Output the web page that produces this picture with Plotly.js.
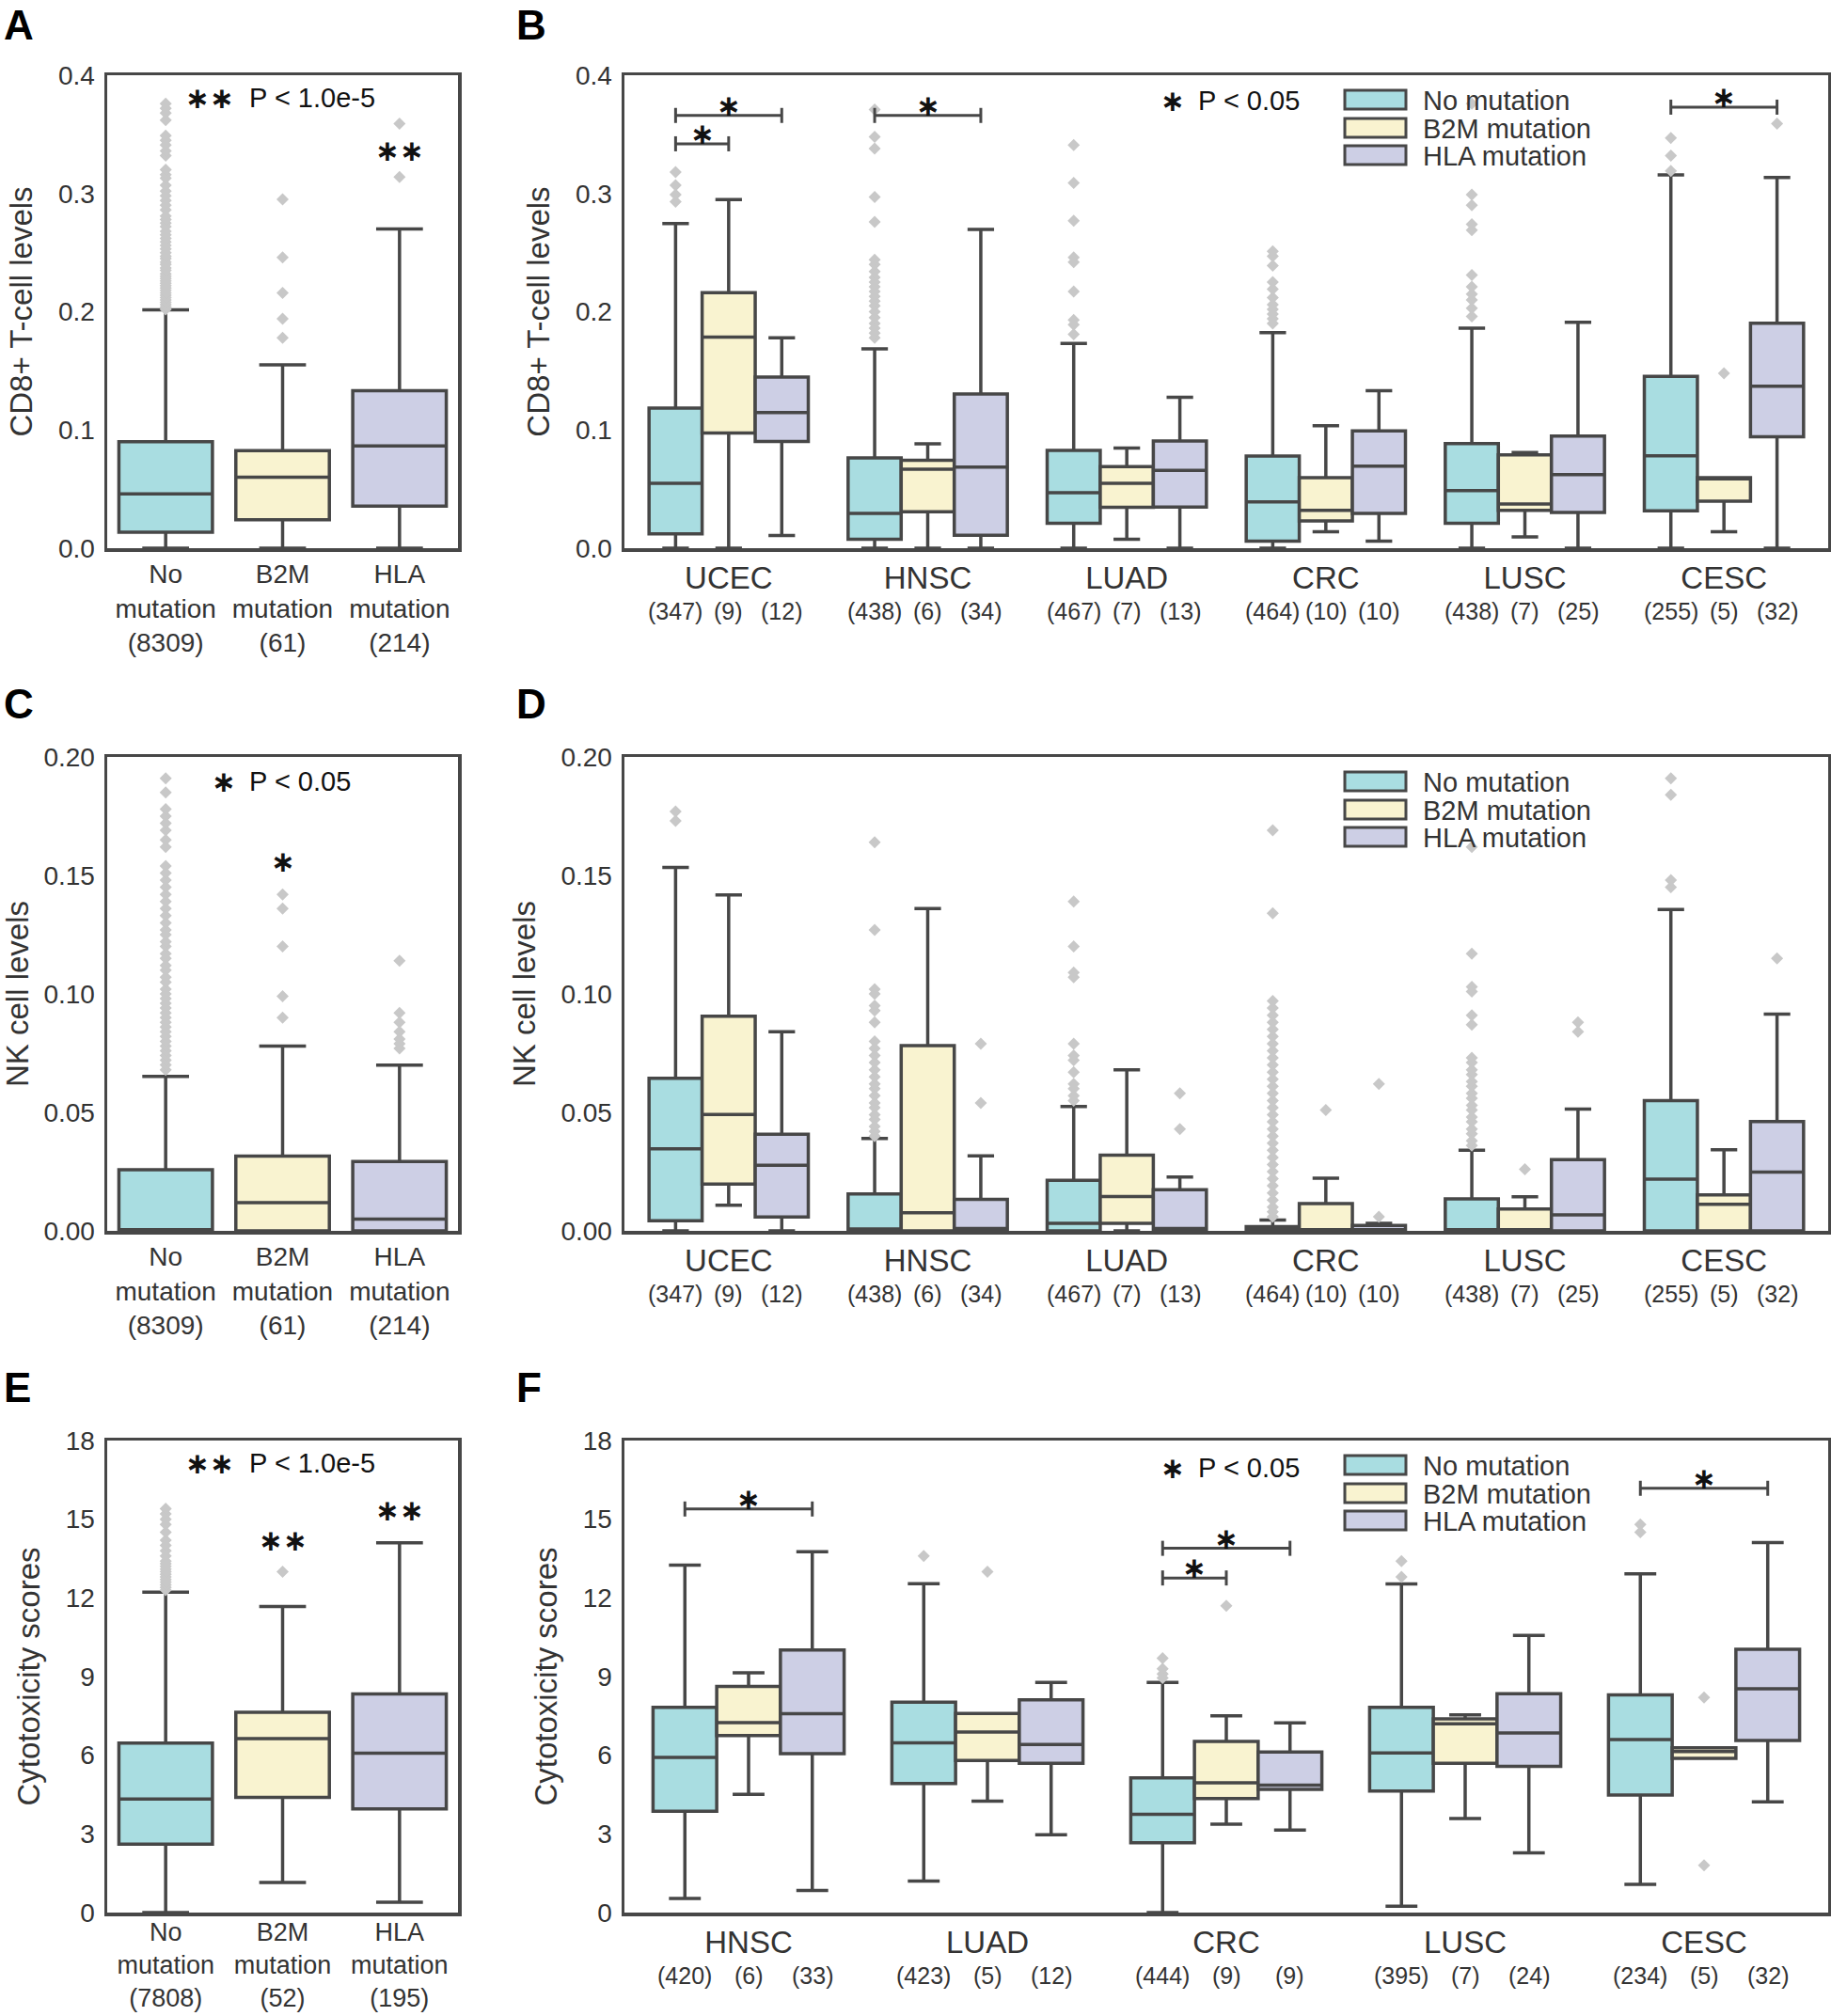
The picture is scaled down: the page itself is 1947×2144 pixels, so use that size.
<!DOCTYPE html>
<html>
<head>
<meta charset="utf-8">
<script src="https://cdn.plot.ly/plotly-3.0.1.min.js"></script>
<style>
  html, body { margin: 0; padding: 0; background: #fff; }
  #fig { width: 1947px; height: 2144px; }
</style>
</head>
<body>
<div id="fig"></div>
<script>
// ------------------------
// Data
// ------------------------
var groups = ["No mutation", "B2M mutation", "HLA mutation"];
var pooledTickNames = ["No<br>mutation", "B2M<br>mutation", "HLA<br>mutation"];
var cd8PooledN = ["8309", "61", "214"];
var cytoPooledN = ["7808", "52", "195"];

var cancers6 = ["UCEC", "HNSC", "LUAD", "CRC", "LUSC", "CESC"];
var cancers5 = ["HNSC", "LUAD", "CRC", "LUSC", "CESC"];
var n6No = [347, 438, 467, 464, 438, 255];
var n6B2m = [9, 6, 7, 10, 7, 5];
var n6Hla = [12, 34, 13, 10, 25, 32];
var n5No = [420, 423, 444, 395, 234];
var n5B2m = [6, 5, 9, 7, 5];
var n5Hla = [33, 12, 9, 24, 32];

// A - CD8+ T cells, pooled (order: No, B2M, HLA)
var cd8Pooled = {
  lf: [0, 0, 0],
  q1: [0.0135, 0.024, 0.0356],
  med: [0.046, 0.060, 0.0864],
  q3: [0.090, 0.0825, 0.1333],
  uf: [0.2016, 0.155, 0.270],
  out: [
    [0.376, 0.372, 0.368, 0.362, 0.349, 0.345, 0.341, 0.336, 0.332, 0.320, 0.316, 0.313, 0.307,
     0.302, 0.298, 0.294, 0.290, 0.286, 0.281, 0.278, 0.275, 0.272, 0.268, 0.265, 0.262, 0.259,
     0.256, 0.253, 0.250, 0.247, 0.245, 0.242, 0.240, 0.237, 0.235, 0.232, 0.230, 0.228, 0.226,
     0.224, 0.222, 0.220, 0.218, 0.216, 0.214, 0.212, 0.210, 0.208, 0.206, 0.204, 0.202],
    [0.295, 0.246, 0.216, 0.194, 0.178],
    [0.359, 0.314]
  ]
};

// B - CD8+ T cells by cancer
var cd8No = {
  lf: [0, 0, 0, 0, 0, 0],
  q1: [0.0121, 0.0075, 0.021, 0.006, 0.021, 0.0316],
  med: [0.0548, 0.0295, 0.047, 0.0391, 0.0487, 0.0782],
  q3: [0.1184, 0.0764, 0.0828, 0.0779, 0.0885, 0.1454],
  uf: [0.2745, 0.1685, 0.1732, 0.1824, 0.186, 0.3157],
  out: [
    [0.318, 0.307, 0.299, 0.293],
    [0.371, 0.348, 0.338, 0.297, 0.276, 0.244, 0.240, 0.234, 0.229, 0.225, 0.221, 0.217, 0.213,
     0.209, 0.205, 0.200, 0.195, 0.190, 0.186, 0.182, 0.178],
    [0.341, 0.309, 0.277, 0.246, 0.242, 0.217, 0.193, 0.189, 0.181],
    [0.251, 0.247, 0.239, 0.225, 0.219, 0.212, 0.206, 0.202, 0.198, 0.194, 0.190],
    [0.376, 0.299, 0.290, 0.274, 0.269, 0.231, 0.221, 0.215, 0.210, 0.203, 0.196],
    [0.347, 0.332, 0.319]
  ]
};
var cd8B2m = {
  lf: [0, 0, 0.0075, 0.0139, 0.0096, 0.0139],
  q1: [0.0974, 0.0309, 0.0345, 0.0231, 0.032, 0.0398],
  med: [0.1785, 0.0668, 0.0548, 0.032, 0.0373, 0.0587],
  q3: [0.2162, 0.0743, 0.069, 0.0597, 0.079, 0.0597],
  uf: [0.2948, 0.0882, 0.0846, 0.1035, 0.081, 0.0597],
  out: [[], [], [], [], [], [0.148]]
};
var cd8Hla = {
  lf: [0.0107, 0, 0, 0.006, 0, 0],
  q1: [0.0903, 0.011, 0.0348, 0.0295, 0.0302, 0.0942],
  med: [0.1148, 0.0686, 0.0658, 0.0693, 0.0622, 0.1369],
  q3: [0.1447, 0.1305, 0.0907, 0.0992, 0.0949, 0.1902],
  uf: [0.178, 0.2695, 0.1276, 0.1333, 0.191, 0.3136],
  out: [[], [], [], [], [], [0.359]]
};

// C - NK cells, pooled
var nkPooled = {
  lf: [0, 0, 0],
  q1: [0, 0, 0],
  med: [0.0005, 0.0119, 0.005],
  q3: [0.0258, 0.0315, 0.0293],
  uf: [0.0652, 0.078, 0.0699],
  out: [
    [0.191, 0.185, 0.178, 0.175, 0.172, 0.169, 0.165, 0.162, 0.154, 0.151, 0.148, 0.145, 0.142,
     0.139, 0.136, 0.133, 0.130, 0.127, 0.125, 0.122, 0.120, 0.117, 0.115, 0.112, 0.110, 0.107,
     0.105, 0.102, 0.100, 0.098, 0.096, 0.094, 0.092, 0.090, 0.088, 0.086, 0.084, 0.082, 0.080,
     0.078, 0.076, 0.074, 0.072, 0.070, 0.068],
    [0.142, 0.136, 0.120, 0.099, 0.090],
    [0.114, 0.092, 0.088, 0.084, 0.081, 0.079, 0.077]
  ]
};

// D - NK cells by cancer
var nkNo = {
  lf: [0, 0, 0, 0, 0, 0],
  q1: [0.0043, 0, 0, 0, 0, 0],
  med: [0.0346, 0.0008, 0.0032, 0.0004, 0.0005, 0.0218],
  q3: [0.0644, 0.0156, 0.0213, 0.0018, 0.0135, 0.055],
  uf: [0.1534, 0.039, 0.0525, 0.0046, 0.034, 0.1356],
  out: [
    [0.177, 0.173],
    [0.164, 0.127, 0.102, 0.100, 0.095, 0.093, 0.088, 0.080, 0.077, 0.074, 0.071, 0.068, 0.065,
     0.062, 0.060, 0.057, 0.054, 0.052, 0.049, 0.047, 0.044, 0.042, 0.040],
    [0.139, 0.120, 0.109, 0.107, 0.079, 0.074, 0.072, 0.067, 0.062, 0.060, 0.057, 0.055],
    [0.169, 0.134, 0.097, 0.094, 0.091, 0.088, 0.085, 0.082, 0.079, 0.076, 0.073, 0.070, 0.067,
     0.064, 0.061, 0.058, 0.055, 0.052, 0.049, 0.046, 0.043, 0.040, 0.037, 0.034, 0.031, 0.028,
     0.025, 0.022, 0.019, 0.016, 0.013, 0.010, 0.008, 0.006],
    [0.162, 0.117, 0.103, 0.101, 0.091, 0.087, 0.073, 0.071, 0.068, 0.066, 0.063, 0.061, 0.058,
     0.056, 0.053, 0.051, 0.048, 0.046, 0.043, 0.041, 0.038, 0.036],
    [0.191, 0.184, 0.148, 0.145]
  ]
};
var nkB2m = {
  lf: [0.0108, 0, 0, 0, 0, 0],
  q1: [0.0197, 0, 0.0032, 0, 0, 0],
  med: [0.0491, 0.0076, 0.0145, 0.0005, 0.0005, 0.0112],
  q3: [0.0906, 0.0782, 0.0319, 0.0115, 0.0092, 0.0152],
  uf: [0.1418, 0.136, 0.068, 0.0222, 0.0144, 0.0342],
  out: [[], [], [], [0.051], [0.026], []]
};
var nkHla = {
  lf: [0, 0, 0, 0, 0, 0],
  q1: [0.0059, 0, 0, 0, 0, 0],
  med: [0.0277, 0.001, 0.001, 0.0005, 0.0067, 0.0248],
  q3: [0.0408, 0.0133, 0.0174, 0.0023, 0.0301, 0.0461],
  uf: [0.084, 0.0316, 0.0227, 0.0032, 0.0514, 0.0915],
  out: [[], [0.079, 0.054], [0.058, 0.043], [0.062, 0.006], [0.088, 0.084], [0.115]]
};

// E - cytotoxicity, pooled
var cytoPooled = {
  lf: [0, 1.15, 0.39],
  q1: [2.61, 4.39, 3.95],
  med: [4.33, 6.63, 6.08],
  q3: [6.46, 7.64, 8.34],
  uf: [12.22, 11.67, 14.1],
  out: [
    [15.4, 15.2, 15.0, 14.8, 14.5, 14.2, 14.0, 13.8, 13.6, 13.4, 13.3, 13.2, 13.1, 13.0, 12.9,
     12.8, 12.7, 12.6, 12.5, 12.4, 12.3],
    [13.0],
    []
  ]
};

// F - cytotoxicity by cancer
var cytoNo = {
  lf: [0.54, 1.2, 0, 0.24, 1.08],
  q1: [3.86, 4.92, 2.66, 4.63, 4.48],
  med: [5.92, 6.47, 3.75, 6.09, 6.6],
  q3: [7.83, 8.02, 5.14, 7.83, 8.3],
  uf: [13.25, 12.54, 8.78, 12.53, 12.92],
  out: [[], [13.6], [9.7, 9.3, 9.1, 8.95], [13.4, 12.8], [14.8, 14.5]]
};
var cytoB2m = {
  lf: [4.51, 4.25, 3.37, 3.59, 5.88],
  q1: [6.75, 5.8, 4.35, 5.69, 5.88],
  med: [7.24, 6.88, 4.95, 7.2, 6.14],
  q3: [8.62, 7.59, 6.53, 7.39, 6.28],
  uf: [9.14, 7.59, 7.5, 7.54, 6.28],
  out: [[], [13.0], [11.7], [], [8.2, 1.8]]
};
var cytoHla = {
  lf: [0.84, 2.97, 3.15, 2.28, 4.22],
  q1: [6.06, 5.69, 4.7, 5.58, 6.56],
  med: [7.58, 6.41, 4.86, 6.85, 8.53],
  q3: [10.01, 8.11, 6.12, 8.35, 10.04],
  uf: [13.76, 8.78, 7.23, 10.57, 14.11],
  out: [[], [], [], [], []]
};

// significance brackets: [cancer index, from group, to group, level]
var cd8Brackets = [[0, 0, 1, 0.342], [0, 0, 2, 0.366], [1, 0, 2, 0.366], [5, 0, 2, 0.373]];
var cytoBrackets = [[0, 0, 2, 15.39], [2, 0, 1, 12.76], [2, 0, 2, 13.89], [4, 0, 2, 16.18]];

// ------------------------
// Styling / helpers
// ------------------------
var W = 1947, H = 2144;
var FILLS = ["#a9dde1", "#f9f3d0", "#cdcfe5"];
var EDGE = "#474747";
var LW = 3.5;
var FONT = "Liberation Sans, Arial, sans-serif";
var STAR_FONT = "DejaVu Sans, sans-serif";
var SLOT = 0.8 / 3;

function fx(p) { return p / W; }
function fy(p) { return 1 - p / H; }

var rowTop = [80, 805, 1532];
var rowBot = [583, 1309, 2034];
var leftCol = [114, 487];
var rightCol = [664, 1944];

function slotX(ci, gi) { return ci + (gi - 1) * SLOT; }

// empty outlier rows trip up plotly's 2D sample detection, so give them a null
function pts(rows) { return rows.map(function (r) { return r.length ? r : [null]; }); }

function boxTrace(cats, s, i, color, xa, ya, og, ag) {
  var sub = function (arr) { return i === null ? arr : [arr[i]]; };
  return {
    type: "box", orientation: "v",
    x: i === null ? cats : [cats[i]],
    q1: sub(s.q1), median: sub(s.med), q3: sub(s.q3),
    lowerfence: sub(s.lf), upperfence: sub(s.uf),
    y: pts(sub(s.out)),
    boxpoints: "outliers", jitter: 0, pointpos: 0,
    fillcolor: color,
    line: { color: EDGE, width: LW },
    whiskerwidth: 0.5,
    marker: { symbol: "diamond", size: 10, color: "#c8c8c8", line: { width: 0 } },
    xaxis: xa, yaxis: ya,
    offsetgroup: og, alignmentgroup: ag,
    showlegend: false, hoverinfo: "skip"
  };
}

var data = [];
// pooled panels: one trace per mutation group, sharing one slot
[[cd8Pooled, "x", "y"], [nkPooled, "x3", "y3"], [cytoPooled, "x5", "y5"]].forEach(function (p) {
  for (var i = 0; i < 3; i++) data.push(boxTrace(groups, p[0], i, FILLS[i], p[1], p[2], "pool" + p[1], p[1]));
});
// cancer panels: grouped
[[cancers6, [cd8No, cd8B2m, cd8Hla], "x2", "y2"],
 [cancers6, [nkNo, nkB2m, nkHla], "x4", "y4"],
 [cancers5, [cytoNo, cytoB2m, cytoHla], "x6", "y6"]].forEach(function (p) {
  for (var g = 0; g < 3; g++) data.push(boxTrace(p[0], p[1][g], null, FILLS[g], p[2], p[3], "g" + g, p[2]));
});

// ------------------------
// Axes
// ------------------------
function xAxis(col, cats, ticktext, size, anchor, standoff) {
  return {
    domain: [fx(col[0]), fx(col[1])], anchor: anchor,
    type: "category", categoryorder: "array", categoryarray: cats,
    tickmode: "array", tickvals: cats, ticktext: ticktext,
    showline: true, mirror: true, linecolor: EDGE, linewidth: LW,
    ticks: "", showgrid: false, zeroline: false,
    tickfont: { size: size, color: "#333", family: FONT },
    ticklabelstandoff: standoff || 0, fixedrange: true
  };
}
function yAxis(row, range, dtick, fmt, title, anchor) {
  return {
    domain: [fy(rowBot[row]), fy(rowTop[row])], anchor: anchor,
    range: range, tick0: 0, dtick: dtick, tickformat: fmt,
    showline: true, mirror: true, linecolor: EDGE, linewidth: LW,
    ticks: "", showgrid: false, zeroline: false,
    tickfont: { size: 28, color: "#333", family: FONT },
    ticklabelstandoff: 4,
    title: { text: title, font: { size: 33, color: "#333", family: FONT }, standoff: 18 },
    fixedrange: true
  };
}
function pooledText(nArr) {
  return pooledTickNames.map(function (t, i) { return t + "<br>(" + nArr[i] + ")"; });
}

var layout = {
  width: W, height: H,
  margin: { l: 0, r: 0, t: 0, b: 0 },
  paper_bgcolor: "#fff", plot_bgcolor: "#fff",
  font: { family: FONT, color: "#333" },
  boxmode: "group", boxgap: 0.2, boxgroupgap: 0,
  showlegend: false,
  xaxis: xAxis(leftCol, groups, pooledText(cd8PooledN), 28, "y"),
  yaxis: yAxis(0, [0, 0.4], 0.1, ".1f", "CD8+ T-cell levels", "x"),
  xaxis2: xAxis(rightCol, cancers6, cancers6, 33, "y2"),
  yaxis2: yAxis(0, [0, 0.4], 0.1, ".1f", "CD8+ T-cell levels", "x2"),
  xaxis3: xAxis(leftCol, groups, pooledText(cd8PooledN), 28, "y3"),
  yaxis3: yAxis(1, [0, 0.2], 0.05, ".2f", "NK cell levels", "x3"),
  xaxis4: xAxis(rightCol, cancers6, cancers6, 33, "y4"),
  yaxis4: yAxis(1, [0, 0.2], 0.05, ".2f", "NK cell levels", "x4"),
  xaxis5: xAxis(leftCol, groups, pooledText(cytoPooledN), 27, "y5", -6),
  yaxis5: yAxis(2, [0, 18], 3, "d", "Cytotoxicity scores", "x5"),
  xaxis6: xAxis(rightCol, cancers5, cancers5, 33, "y6"),
  yaxis6: yAxis(2, [0, 18], 3, "d", "Cytotoxicity scores", "x6"),
  shapes: [],
  annotations: []
};

// panel letters
[["A", 2, 0], ["B", 547, 0], ["C", 2, 722], ["D", 547, 722], ["E", 2, 1449], ["F", 547, 1449]].forEach(function (l) {
  layout.annotations.push({
    text: "<b>" + l[0] + "</b>", xref: "paper", yref: "paper",
    x: fx(l[1]), y: fy(l[2]), xanchor: "left", yanchor: "top", showarrow: false,
    font: { family: FONT, size: 44, color: "#000" }
  });
});

// counts under cancer panels
function addCounts(xa, row, arrs) {
  arrs.forEach(function (arr, g) {
    arr.forEach(function (n, ci) {
      layout.annotations.push({
        text: "(" + n + ")", xref: xa, yref: "paper", x: slotX(ci, g), y: fy(rowBot[row] + 67),
        xanchor: "center", yanchor: "middle", showarrow: false,
        font: { family: FONT, size: 25, color: "#333" }
      });
    });
  });
}
addCounts("x2", 0, [n6No, n6B2m, n6Hla]);
addCounts("x4", 1, [n6No, n6B2m, n6Hla]);
addCounts("x6", 2, [n5No, n5B2m, n5Hla]);

// legends (drawn by hand to match swatch shape)
function addLegend(row) {
  var top = rowTop[row];
  var rows = [16, 46, 75];
  groups.forEach(function (g, i) {
    layout.shapes.push({
      type: "rect", xref: "paper", yref: "paper",
      x0: fx(1430), x1: fx(1495), y0: fy(top + rows[i]), y1: fy(top + rows[i] + 20),
      fillcolor: FILLS[i], line: { color: EDGE, width: 3 }
    });
    layout.annotations.push({
      text: g, xref: "paper", yref: "paper", x: fx(1511), y: fy(top + rows[i] + 11),
      xanchor: "left", yanchor: "middle", showarrow: false,
      font: { family: FONT, size: 29, color: "#333" }
    });
  });
}
addLegend(0); addLegend(1); addLegend(2);

// p-value keys
function addKey(stars, starX, textX, yPix, label) {
  layout.annotations.push({
    text: "<b>" + stars + "</b>", xref: "paper", yref: "paper", x: fx(starX), y: fy(yPix),
    xanchor: "center", yanchor: "middle", showarrow: false,
    font: { family: STAR_FONT, size: 31, color: "#111" }
  });
  layout.annotations.push({
    text: label, xref: "paper", yref: "paper", x: fx(textX), y: fy(yPix),
    xanchor: "left", yanchor: "middle", showarrow: false,
    font: { family: FONT, size: 29, color: "#111" }
  });
}
addKey("∗∗", 223, 263, rowTop[0] + 24, "P &lt; 1.0e-5");
addKey("∗", 1247, 1272, rowTop[0] + 27, "P &lt; 0.05");
addKey("∗", 238, 263, rowTop[1] + 26, "P &lt; 0.05");
addKey("∗∗", 223, 263, rowTop[2] + 24, "P &lt; 1.0e-5");
addKey("∗", 1247, 1272, rowTop[2] + 29, "P &lt; 0.05");

// stars over pooled groups
function addStar(xa, ya, ci, yVal, stars) {
  layout.annotations.push({
    text: "<b>" + stars + "</b>", xref: xa, yref: ya, x: ci, y: yVal,
    xanchor: "center", yanchor: "middle", showarrow: false,
    font: { family: STAR_FONT, size: 31, color: "#111" }
  });
}
addStar("x", "y", 2, 0.336, "∗∗");
addStar("x3", "y3", 1, 0.156, "∗");
addStar("x5", "y5", 1, 14.2, "∗∗");
addStar("x5", "y5", 2, 15.35, "∗∗");

// brackets
function addBrackets(xa, ya, list) {
  list.forEach(function (b) {
    var x0 = slotX(b[0], b[1]), x1 = slotX(b[0], b[2]), yv = b[3];
    var ln = { color: EDGE, width: 3 };
    layout.shapes.push({ type: "line", xref: xa, yref: ya, x0: x0, x1: x1, y0: yv, y1: yv, line: ln });
    [x0, x1].forEach(function (xx) {
      layout.shapes.push({ type: "line", xref: xa, yref: ya, x0: xx, x1: xx,
        ysizemode: "pixel", yanchor: yv, y0: -8, y1: 8, line: ln });
    });
    layout.annotations.push({
      text: "<b>∗</b>", xref: xa, yref: ya, x: (x0 + x1) / 2, y: yv,
      xanchor: "center", yanchor: "bottom", yshift: -9, showarrow: false,
      font: { family: STAR_FONT, size: 31, color: "#111" }
    });
  });
}
addBrackets("x2", "y2", cd8Brackets);
addBrackets("x6", "y6", cytoBrackets);

Plotly.newPlot("fig", data, layout, { staticPlot: true });
</script>
</body>
</html>
